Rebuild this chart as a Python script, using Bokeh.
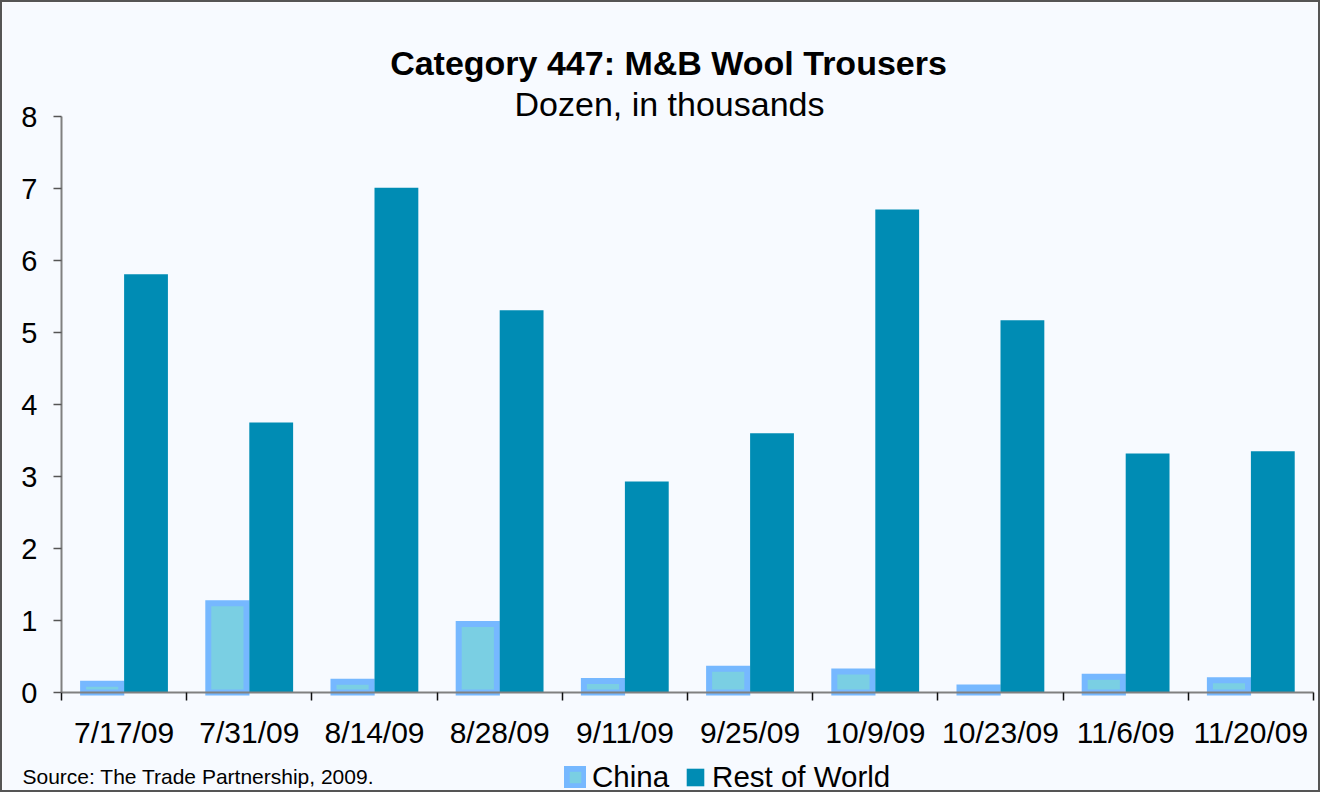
from bokeh.plotting import figure
from bokeh.models import (Range1d, FixedTicker, Label, Legend, LegendItem,
                          ColumnDataSource)
from bokeh.embed import file_html
from bokeh.resources import INLINE

categories = ["7/17/09", "7/31/09", "8/14/09", "8/28/09", "9/11/09",
              "9/25/09", "10/9/09", "10/23/09", "11/6/09", "11/20/09"]
china = [0.12, 1.24, 0.15, 0.95, 0.16, 0.33, 0.29, 0.07, 0.22, 0.17]
rest_of_world = [5.81, 3.75, 7.01, 5.31, 2.93, 3.60, 6.71, 5.17, 3.32, 3.35]
y_ticks = [0, 1, 2, 3, 4, 5, 6, 7, 8]

FONT = "Liberation Sans"
BG = "#F7FAFF"
ROW_C = "#008CB4"
CH_FILL = "#7ACFE3"
CH_LINE = "#76B8FF"

W, H = 1320, 792
n = len(categories)
Y_MAX = 8
# plot-area placement on the canvas (pixels)
PX_L, PX_R, PX_T, PX_B = 59, 1311, 114, 690
sx = (PX_R - PX_L) / n
sy = (PX_B - PX_T) / Y_MAX

centers = [i + 0.5 for i in range(n)]
src = ColumnDataSource(dict(
    xc=[c - 0.175 for c in centers],
    xr=[c + 0.175 for c in centers],
    china=china, row=rest_of_world))

p = figure(width=W, height=H, output_backend="svg", toolbar_location=None,
           x_range=Range1d(-PX_L / sx, n + (W - PX_R) / sx),
           y_range=Range1d(-(H - PX_B) / sy, Y_MAX + PX_T / sy),
           min_border=0)
p.background_fill_color = BG
p.border_fill_color = BG
p.outline_line_color = None
p.grid.visible = False
p.styles = {"border": "2px solid #555555", "box-sizing": "border-box"}

r_ch = p.vbar(x="xc", top="china", width=0.35 - 0.045, bottom=0, source=src,
              fill_color=CH_FILL, line_color=CH_LINE, line_width=6,
              line_join="miter")
r_row = p.vbar(x="xr", top="row", width=0.35, bottom=0, source=src,
               fill_color=ROW_C, line_color=None)

# x axis
xa = p.xaxis[0]
xa.fixed_location = 0
xa.bounds = (0, n)
xa.ticker = FixedTicker(ticks=centers, minor_ticks=list(range(n + 1)))
xa.major_label_overrides = {c: lab for c, lab in zip(centers, categories)}
xa.major_tick_line_color = None
xa.major_tick_out = 0
xa.major_tick_in = 0
xa.minor_tick_out = 8
xa.minor_tick_in = 0
xa.minor_tick_line_color = "#111111"
xa.minor_tick_line_width = 1.5
xa.axis_line_color = "#808080"
xa.axis_line_width = 2
xa.major_label_text_font = FONT
xa.major_label_text_font_size = "30px"
xa.major_label_text_color = "#000000"
xa.major_label_standoff = 15

# y axis
ya = p.yaxis[0]
ya.fixed_location = 0
ya.bounds = (0, Y_MAX)
ya.ticker = FixedTicker(ticks=y_ticks)
ya.minor_tick_line_color = None
ya.major_tick_out = 8
ya.major_tick_in = 0
ya.major_tick_line_color = "#555555"
ya.major_tick_line_width = 1.5
ya.axis_line_color = "#808080"
ya.axis_line_width = 2
ya.major_label_text_font = FONT
ya.major_label_text_font_size = "29px"
ya.major_label_text_color = "#000000"
ya.major_label_standoff = 16

# Titles and source
def xs(px):
    return (px - PX_L) / sx

def ys(py):
    return (PX_B - py) / sy

p.add_layout(Label(x=xs(666), y=ys(60), text="Category 447: M&B Wool Trousers",
                   text_font=FONT, text_font_size="34px", text_font_style="bold",
                   text_align="center", text_baseline="middle", text_color="#000000"))
p.add_layout(Label(x=xs(667), y=ys(101), text="Dozen, in thousands",
                   text_font=FONT, text_font_size="34px",
                   text_align="center", text_baseline="middle", text_color="#000000"))
p.add_layout(Label(x=xs(20), y=ys(774), text="Source: The Trade Partnership, 2009.",
                   text_font=FONT, text_font_size="21px",
                   text_align="left", text_baseline="middle", text_color="#000000"))

legend = Legend(items=[LegendItem(label="China", renderers=[r_ch]),
                       LegendItem(label="Rest of World", renderers=[r_row])],
                orientation="horizontal", location=(562, 0),
                padding=0, margin=0, spacing=15, label_standoff=6,
                glyph_width=22, glyph_height=22,
                label_text_font=FONT, label_text_font_size="29.5px",
                label_text_color="#000000",
                border_line_color=None, background_fill_alpha=0)
p.add_layout(legend, "center")

open("out.html", "w").write(file_html(p, INLINE))
